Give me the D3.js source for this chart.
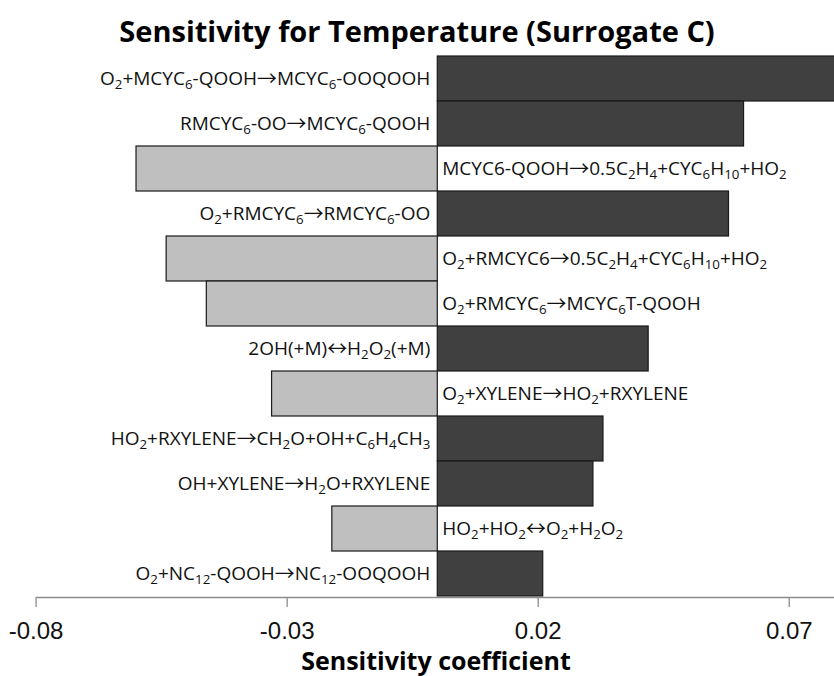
<!DOCTYPE html>
<html>
<head>
<meta charset="utf-8">
<script src="https://cdn.jsdelivr.net/npm/d3@7"></script>
<style>
  body { margin: 0; background: #fff; }
  svg { display: block; font-family: "Open Sans", "Noto Sans", sans-serif; }
</style>
</head>
<body>
<svg id="chart" width="834" height="676"></svg>
<script>
// reactions, top to bottom ("_n" = subscript)
const reactions = [
  "O_2+MCYC_6-QOOH→MCYC_6-OOQOOH",
  "RMCYC_6-OO→MCYC_6-QOOH",
  "MCYC6-QOOH→0.5C_2H_4+CYC_6H_10+HO_2",
  "O_2+RMCYC_6→RMCYC_6-OO",
  "O_2+RMCYC6→0.5C_2H_4+CYC_6H_10+HO_2",
  "O_2+RMCYC_6→MCYC_6T-QOOH",
  "2OH(+M)↔H_2O_2(+M)",
  "O_2+XYLENE→HO_2+RXYLENE",
  "HO_2+RXYLENE→CH_2O+OH+C_6H_4CH_3",
  "OH+XYLENE→H_2O+RXYLENE",
  "HO_2+HO_2↔O_2+H_2O_2",
  "O_2+NC_12-QOOH→NC_12-OOQOOH"
];
const sensitivity = [0.085, 0.061, -0.060, 0.058, -0.054, -0.046, 0.042, -0.033, 0.033, 0.031, -0.021, 0.021];
const tickVals = [-0.08, -0.03, 0.02, 0.07];

const data = reactions.map((r, i) => ({id: i, label: r, value: sensitivity[i]}));

const svg = d3.select("#chart");

const x = d3.scaleLinear()
    .domain([-0.08, 0.08])
    .range([35.6, 35.6 + 0.16 * 5021]);

const y = d3.scaleBand()
    .domain(data.map(d => d.id))
    .range([56, 596])
    .padding(0);

// bars
svg.append("g").selectAll("rect")
  .data(data)
  .enter().append("rect")
    .attr("x", d => x(Math.min(0, d.value)))
    .attr("y", d => y(d.id))
    .attr("width", d => Math.abs(x(d.value) - x(0)))
    .attr("height", y.bandwidth())
    .attr("fill", d => d.value > 0 ? "#404040" : "#bfbfbf")
    .attr("stroke", "#1a1a1a")
    .attr("stroke-width", 1.2);

// labels with subscripts and arrows
function addLabel(sel, txt) {
  let shift = 0;
  txt.split(/(_\d+|[→↔])/).filter(s => s.length).forEach(part => {
    const t = sel.append("tspan");
    if (part[0] === "_") {
      t.attr("font-size", "0.7em").attr("dy", 4 - shift).text(part.slice(1));
      shift = 4;
    } else if (part === "→" || part === "↔") {
      // thin full-width arrow glyph
      t.attr("font-family", "Noto Sans CJK SC, DejaVu Sans").attr("font-size", "1.05em")
        .attr("dy", 1 - shift).text(part);
      shift = 1;
    } else {
      if (shift) t.attr("dy", -shift);
      shift = 0;
      t.text(part);
    }
  });
}

svg.append("g").selectAll("text")
  .data(data)
  .enter().append("text")
    .attr("x", d => d.value > 0 ? x(0) - 7 : x(0) + 5)
    .attr("y", d => y(d.id) + y.bandwidth() / 2 + 6)
    .attr("text-anchor", d => d.value > 0 ? "end" : "start")
    .attr("font-size", 19)
    .attr("fill", "#111")
    .each(function(d) { addLabel(d3.select(this), d.label); });

// x axis
const axis = svg.append("g")
    .attr("transform", "translate(0,597)")
    .call(d3.axisBottom(x).tickValues(tickVals).tickSize(10).tickSizeOuter(0).tickPadding(15)
      .tickFormat(d3.format(".2f")));
axis.select(".domain").attr("stroke", "#8c8c8c").attr("stroke-width", 1.3);
axis.selectAll(".tick line").attr("stroke", "#8c8c8c").attr("stroke-width", 1.3);
axis.selectAll(".tick text").attr("font-size", 24).attr("fill", "#111")
    .text(d => d3.format(".2f")(d).replace("−", "-"));

// title
svg.append("text")
    .attr("x", 417)
    .attr("y", 42)
    .attr("text-anchor", "middle")
    .attr("font-weight", "bold")
    .attr("font-size", 29)
    .text("Sensitivity for Temperature (Surrogate C)");

// x axis title
svg.append("text")
    .attr("x", 436)
    .attr("y", 670)
    .attr("text-anchor", "middle")
    .attr("font-weight", "bold")
    .attr("font-size", 25)
    .text("Sensitivity coefficient");
</script>
</body>
</html>
